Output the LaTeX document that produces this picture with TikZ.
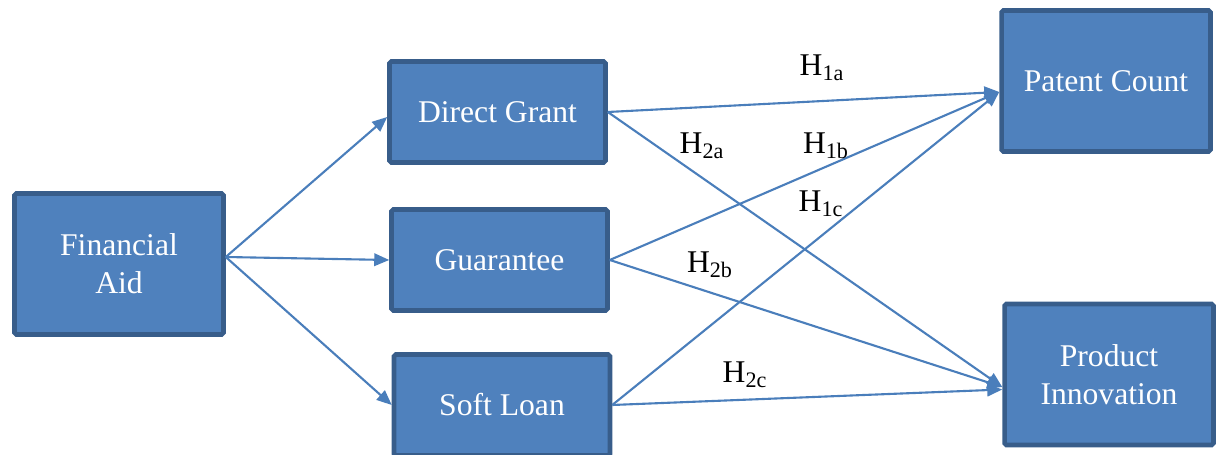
\documentclass[tikz,border=0pt]{standalone}
\usepackage{fontspec}
\setmainfont{Liberation Serif}
\usetikzlibrary{arrows.meta,positioning}
\definecolor{boxfill}{HTML}{4F81BD}
\definecolor{boxline}{HTML}{385D8A}
\definecolor{link}{HTML}{4A7EBB}

\begin{document}
\begin{tikzpicture}[
  x=0.02cm,y=-0.02cm,
  box/.style={draw=boxline,line width=2.6pt,fill=boxfill,rounded corners=1pt,text=white,
    minimum width=4.32cm,minimum height=2.02cm,align=center,font=\fontsize{18}{21.6}\selectfont},
  bigbox/.style={box,minimum width=4.18cm,minimum height=2.82cm},
  arr/.style={-{Triangle[length=0.3cm,width=0.25cm]},line width=1.2pt,link},
  hyp/.style={font=\fontsize{18}{21.6}\selectfont},
]
  \useasboundingbox (0,0) rectangle (1216,455);

  % Source
  \node[bigbox] (aid) at (119,264) {Financial\\Aid};

  % Aid instruments
  \node[box] (grant) at (497.5,112) {Direct Grant};
  \node[box] (guar) at (499.5,260) {Guarantee};
  \node[box] (loan) at (502,405) {Soft Loan};

  % Outcomes
  \node[bigbox] (patent) at (1106,81) {Patent Count};
  \node[bigbox] (product) at (1109,374.5) {Product\\Innovation};

  % Aid to instruments
  \draw[arr] ([yshift=0.14cm]aid.east) -- ([yshift=-0.1cm]grant.west);
  \draw[arr] ([yshift=0.14cm]aid.east) -- (guar.west);
  \draw[arr] ([yshift=0.14cm]aid.east) -- (loan.west);

  % Instruments to outcomes
  \draw[arr] (grant.east) -- ([yshift=-0.22cm]patent.west);
  \draw[arr] (guar.east) -- ([yshift=-0.22cm]patent.west);
  \draw[arr] (loan.east) -- ([yshift=-0.22cm]patent.west);
  \draw[arr] (grant.east) -- ([yshift=-0.25cm]product.west);
  \draw[arr] (guar.east) -- ([yshift=-0.25cm]product.west);
  \draw[arr] (loan.east) -- ([yshift=-0.3cm]product.west);

  % Hypotheses
  \node[hyp] (h1a) at (822,68) {H\textsubscript{1a}};
  \node[hyp] (h1b) at (826,146) {H\textsubscript{1b}};
  \node[hyp] (h1c) at (821,204) {H\textsubscript{1c}};
  \node[hyp] (h2a) at (702,146) {H\textsubscript{2a}};
  \node[hyp] (h2b) at (710,265) {H\textsubscript{2b}};
  \node[hyp] (h2c) at (745,375) {H\textsubscript{2c}};
\end{tikzpicture}
\end{document}
